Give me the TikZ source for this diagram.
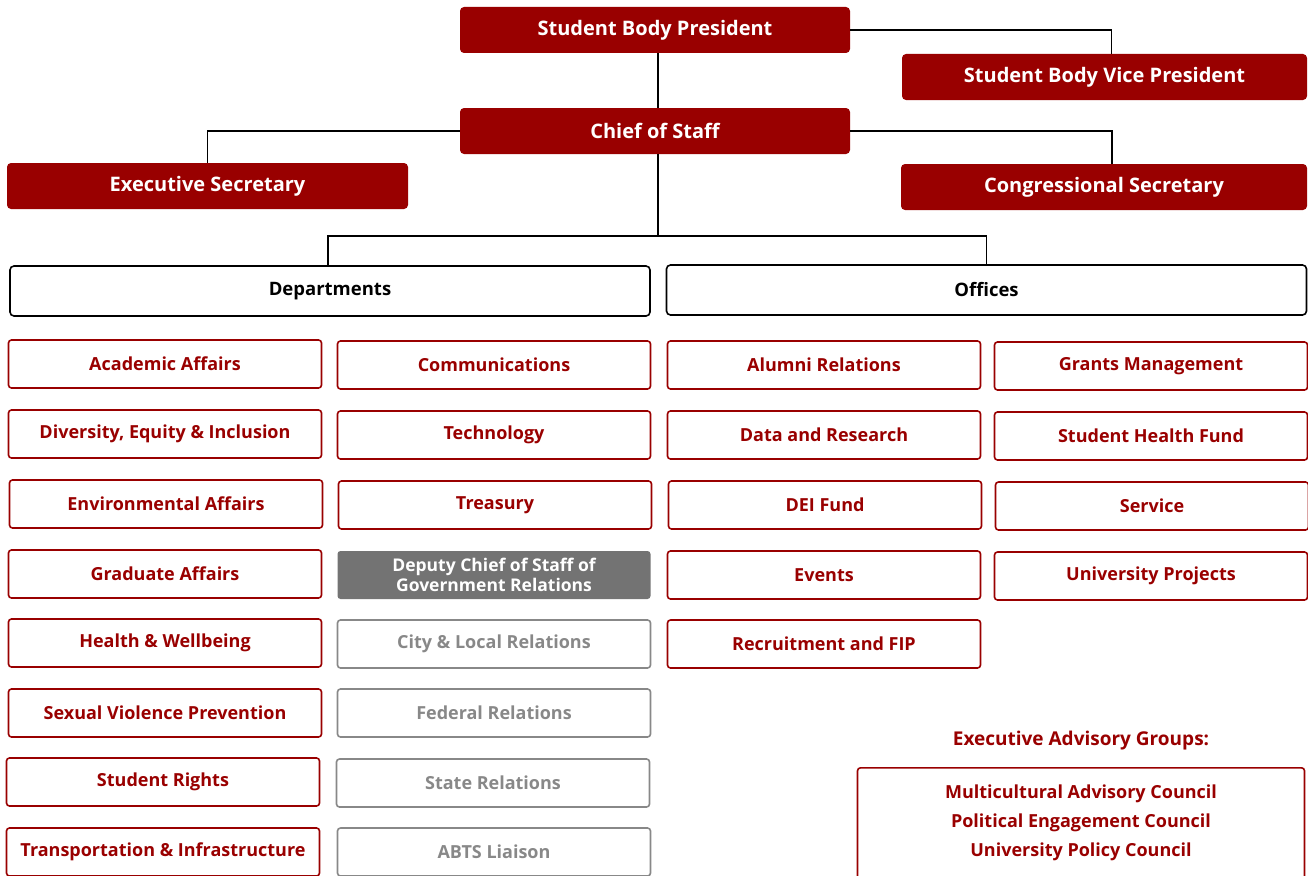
\documentclass[tikz,border=0pt]{standalone}
\usepackage{fontspec}
\setmainfont{Open Sans}
\definecolor{sgred}{HTML}{990000}
\definecolor{sggray}{HTML}{737373}
\definecolor{sgline}{HTML}{888888}

\tikzset{
  lead/.style={fill=sgred, text=white, rounded corners=4pt, inner sep=0pt,
    minimum height=46pt, font=\bfseries\fontsize{20}{23}\selectfont},
  group/.style={draw=black, line width=1.6pt, rounded corners=4pt, inner sep=0pt,
    minimum width=640pt, minimum height=50pt, font=\bfseries\fontsize{18.5}{21}\selectfont},
  unit/.style={draw=sgred, text=sgred, line width=1.6pt, rounded corners=3pt, inner sep=0pt,
    minimum width=313pt, minimum height=48pt, font=\bfseries\fontsize{18}{21}\selectfont},
  govt/.style={unit, draw=sgline, text=sgline},
  link/.style={draw=black, line width=1.4pt},
}

\begin{document}
\begin{tikzpicture}[x=1pt, y=-1pt]
  \useasboundingbox (0,0) rectangle (1308,875);
  \clip (0,0) rectangle (1308,875);

  % executive leadership
  \node [lead, minimum width=390pt] (sbp)  at (655,30)    {Student Body President};
  \node [lead, minimum width=405pt] (sbvp) at (1104.5,77) {Student Body Vice President};
  \node [lead, minimum width=390pt] (cos)  at (655,131)   {Chief of Staff};
  \node [lead, minimum width=401pt] (es)   at (207.5,186) {Executive Secretary};
  \node [lead, minimum width=406pt] (cs)   at (1104,187)  {Congressional Secretary};

  \node [group] (dept) at (330,291)   {Departments};
  \node [group] (off)  at (986.5,290) {Offices};

  % departments, first column
  \node [unit] (acad)  at (165,364) {Academic Affairs};
  \node [unit] (dei)   at (165,434) {Diversity, Equity \& Inclusion};
  \node [unit] (env)   at (166,504) {Environmental Affairs};
  \node [unit] (grad)  at (165,574) {Graduate Affairs};
  \node [unit] (hw)    at (165,643) {Health \& Wellbeing};
  \node [unit] (svp)   at (165,713) {Sexual Violence Prevention};
  \node [unit] (rights) at (163,782) {Student Rights};
  \node [unit] (trans) at (163,852) {Transportation \& Infrastructure};

  % departments, second column
  \node [unit] (comm)  at (494,365) {Communications};
  \node [unit] (tech)  at (494,435) {Technology};
  \node [unit] (treas) at (495,505) {Treasury};
  \node [unit, draw=none, fill=sggray, text=white, align=center,
         font=\bfseries\fontsize{17.5}{20}\selectfont] (dcos) at (494,575)
    {Deputy Chief of Staff of\\Government Relations};
  \node [govt] (city)  at (494,644) {City \& Local Relations};
  \node [govt] (fed)   at (494,713) {Federal Relations};
  \node [govt] (state) at (493,783) {State Relations};
  \node [govt] (abts)  at (494,852) {ABTS Liaison};

  % offices, first column
  \node [unit] (alum)  at (824,365) {Alumni Relations};
  \node [unit] (data)  at (824,435) {Data and Research};
  \node [unit] (deif)  at (825,505) {DEI Fund};
  \node [unit] (events) at (824,575) {Events};
  \node [unit] (recr)  at (824,644) {Recruitment and FIP};

  % offices, second column
  \node [unit] (grants) at (1151,366) {Grants Management};
  \node [unit] (shf)   at (1151,436) {Student Health Fund};
  \node [unit] (serv)  at (1152,506) {Service};
  \node [unit] (proj)  at (1151,576) {University Projects};

  % advisory groups
  \node [text=sgred, font=\bfseries\fontsize{19}{22}\selectfont] (eag) at (1081,741)
    {Executive Advisory Groups:};
  \node [unit, anchor=north, minimum width=447pt, align=center, inner ysep=17pt,
         font=\bfseries\fontsize{18}{29}\selectfont] (councils) at (1081,767)
    {Multicultural Advisory Council\\Political Engagement Council\\University Policy Council\\ \mbox{}};

  % connectors
  \coordinate (split) at (658,236);
  \draw [link] (sbp.east) -| ([xshift=7pt]sbvp.north);
  \draw [link] ([xshift=3pt]sbp.south) -- ([xshift=3pt]cos.north);
  \draw [link] (cos.west) -| (es.north);
  \draw [link] (cos.east) -| ([xshift=8pt]cs.north);
  \draw [link] ([xshift=3pt]cos.south) -- (split);
  \draw [link] ([xshift=-2pt]dept.north) |- (split) -| (off.north);

\end{tikzpicture}
\end{document}
